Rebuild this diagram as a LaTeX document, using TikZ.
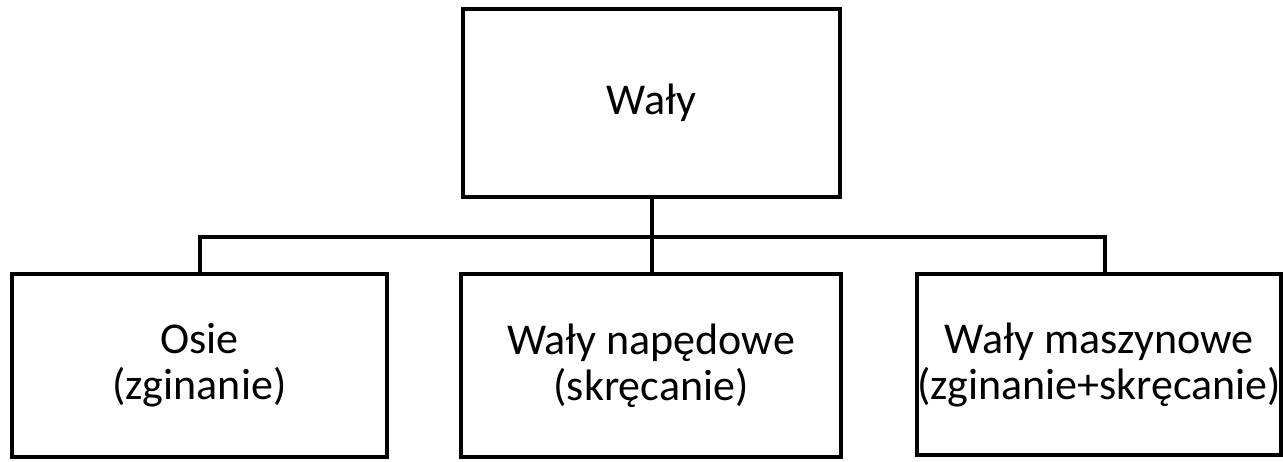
\documentclass[tikz,border=0pt]{standalone}
\usepackage{fontspec}
\setmainfont{Carlito}
\begin{document}
\begin{tikzpicture}[x=1pt,y=-1pt,
  box/.style={draw=black,line width=4pt,minimum width=#1,align=center,inner sep=0pt,font=\fontsize{44}{46}\selectfont},
  box/.default=376pt,
  conn/.style={line width=4pt}]
\useasboundingbox (0,0) rectangle (1283,461);
\node[box=377pt,minimum height=188pt] (top) at (651.5,103) {Wały};
\node[box=375pt,minimum height=183pt] (osie) at (199.5,365.5) {Osie\\(zginanie)};
\node[box=380pt,minimum height=183pt] (nap) at (651,365.5) {Wały napędowe\\(skręcanie)};
\node[box=362pt,minimum height=181pt] (masz) at (1099,364.5) {Wały maszynowe\\(zginanie+skręcanie)};
\coordinate (hub) at (top.south |- 0,237);
\draw[conn] (top.south) -- (hub);
\draw[conn] (osie.north -| 200,0) |- (hub);
\draw[conn] (masz.north -| 1105,0) |- (hub);
\draw[conn] (hub) -- (nap.north -| hub);
\end{tikzpicture}
\end{document}
